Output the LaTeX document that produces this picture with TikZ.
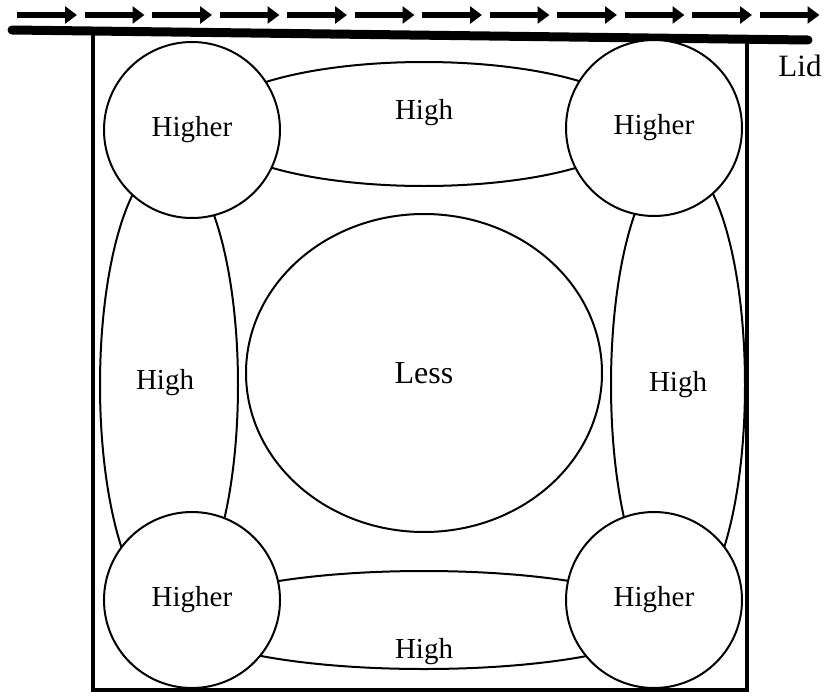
\documentclass[tikz,border=0pt]{standalone}
\usepackage{fontspec}
\setmainfont{Liberation Serif}
\usetikzlibrary{arrows.meta,positioning,shapes.geometric}
\tikzset{
  flowarr/.style={-{Triangle[length=12pt,width=17pt]},line width=6pt},
  hotspot/.style={draw,circle,line width=2pt,fill=white,inner sep=0pt,minimum size=176pt,font=\fontsize{29}{32}\selectfont},
  zone/.style={draw,ellipse,line width=2pt,inner sep=0pt},
  lab/.style={font=\fontsize{29}{32}\selectfont},
}

\begin{document}
\begin{tikzpicture}[x=1pt,y=-1pt]
\useasboundingbox (0,0) rectangle (825,699);
% flow over the lid
\foreach \i in {0,...,11}{
 \pgfmathsetmacro\xa{17+67.5*\i}
 \coordinate (a\i) at (\xa,15);
 \coordinate (b\i) at (\xa+60,15);
 \draw[flowarr] (a\i) -- (b\i);
}
% lid and box
\coordinate (lidl) at (12,30);
\coordinate (lidr) at (808,40);
\draw[line width=9pt,line cap=round] (lidl) -- (lidr);
\draw[line width=3.5pt] (93,33) -- (93,690) -- (747,690) -- (747,40);
\node[font=\fontsize{31}{34}\selectfont] (lid) at (800,66) {Lid};
% high zones
\node[zone,minimum width=430pt,minimum height=124pt] (top) at (424,124) {};
\node[zone,minimum width=480pt,minimum height=98pt] (bot) at (424,620) {};
\node[zone,minimum width=138pt,minimum height=448pt] (left) at (169,385) {};
\node[zone,minimum width=134pt,minimum height=448pt] (right) at (678,385) {};
\node[lab] at ([yshift=11pt]top.center) {High};
\node[lab] at ([yshift=-32pt]bot.center) {High};
\node[lab] at ([xshift=-4pt,yshift=2pt]left.center) {High};
\node[lab] at (right.center) {High};
% corners and middle
\node[hotspot] (tl) at (192,130) {Higher};
\node[hotspot] (tr) at (654,128) {Higher};
\node[hotspot] (bl) at (192,600) {Higher};
\node[hotspot] (br) at (654,600) {Higher};
\node[draw,ellipse,line width=2pt,inner sep=0pt,minimum width=356pt,minimum height=318pt,font=\fontsize{32}{35}\selectfont] (mid) at (424,373) {Less};
\end{tikzpicture}
\end{document}
